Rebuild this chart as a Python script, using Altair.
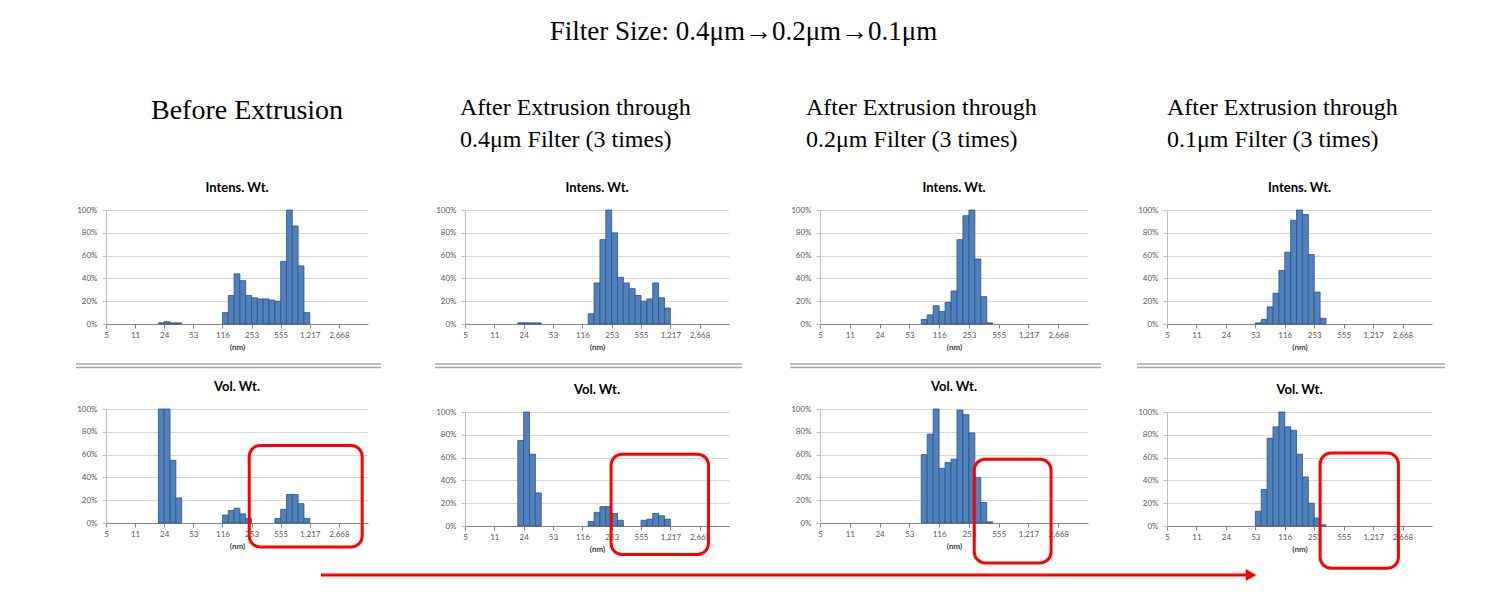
import altair as alt
import pandas as pd

# ---------------- text ----------------
MAIN_TITLE = "Filter Size: 0.4μm→0.2μm→0.1μm"
HEADERS = [
    ["Before Extrusion"],
    ["After Extrusion through", "0.4μm Filter (3 times)"],
    ["After Extrusion through", "0.2μm Filter (3 times)"],
    ["After Extrusion through", "0.1μm Filter (3 times)"],
]
INTENS_TITLE = "Intens. Wt."
VOL_TITLE = "Vol. Wt."
X_TITLE = "(nm)"

# size-bin axis: 45 log-spaced bins, labelled every 5th bin
N_BINS = 45
TICK_POSITIONS = [0, 5, 10, 15, 20, 25, 30, 35, 40]
SIZE_LABELS = ["5", "11", "24", "53", "116", "253", "555", "1,217", "2,668"]
PCT_TICKS = [0, 20, 40, 60, 80, 100]

# ---------------- data (bin index -> % of max) ----------------
before_int_bins = [9, 10, 11, 12, 20, 21, 22, 23, 24, 25, 26, 27, 28, 29, 30, 31, 32, 33, 34]
before_int_pct = [1, 2, 1, 1, 10, 25, 44, 38, 25, 23, 22, 22, 21, 20, 55, 100, 86, 51, 10]
before_vol_bins = [9, 10, 11, 12, 20, 21, 22, 23, 24, 29, 30, 31, 32, 33, 34]
before_vol_pct = [100, 100, 55, 22, 7, 11, 13, 8, 4, 4, 12, 25, 25, 17, 4]

f04_int_bins = [9, 10, 11, 12, 21, 22, 23, 24, 25, 26, 27, 28, 29, 30, 31, 32, 33, 34]
f04_int_pct = [1, 1, 1, 1, 9, 36, 74, 100, 80, 41, 36, 31, 25, 20, 22, 36, 23, 14]
f04_vol_bins = [9, 10, 11, 12, 21, 22, 23, 24, 25, 26, 30, 31, 32, 33, 34]
f04_vol_pct = [75, 100, 63, 29, 4, 12, 17, 17, 11, 5, 5, 6, 11, 9, 6]

f02_int_bins = [17, 18, 19, 20, 21, 22, 23, 24, 25, 26, 27, 28]
f02_int_pct = [4, 8, 16, 11, 19, 29, 74, 95, 100, 57, 24, 1]
f02_vol_bins = [17, 18, 19, 20, 21, 22, 23, 24, 25, 26, 27, 28]
f02_vol_pct = [60, 78, 100, 48, 53, 56, 99, 95, 79, 40, 18, 1]

f01_int_bins = [15, 16, 17, 18, 19, 20, 21, 22, 23, 24, 25, 26]
f01_int_pct = [1, 4, 15, 27, 47, 63, 91, 100, 96, 61, 28, 5]
f01_vol_bins = [15, 16, 17, 18, 19, 20, 21, 22, 23, 24, 25, 26]
f01_vol_pct = [13, 32, 77, 87, 100, 87, 84, 63, 43, 20, 7, 1]

# highlight boxes on the Vol. Wt. panels (bin units, percent units)
box_x0 = [24.6, 24.9, 25.9, 26.0]
box_x1 = [44.0, 41.5, 38.8, 39.3]
box_y0 = [68, 63, 56, 64]
box_y1 = [-21, -25, -35, -37]

# ---------------- styling ----------------
WIDTHS = [262, 264, 268, 265]
HEIGHT = 114
INNER_SPACING = [85, 88, 85, 88]
RIGHT_EXTENT = [32, 26, 13, 13]
COL_SPACING = 34
HEADER_SIZE = [28, 24, 24, 24]
HEADER_DX = [45, -5, -14, 0]
HEADER_OFFSET = [57, 30, 30, 30]
PANEL_TITLE_OFFSET = 11
SANS = "Lato"
SERIF = "Liberation Serif"
BAR_FILL = "#4F81BD"
BAR_STROKE = "#2E5283"
RED = "#FF0000"

label_expr = "".join(
    f"datum.value == {p} ? '{l}' : " for p, l in zip(TICK_POSITIONS, SIZE_LABELS)
) + "''"

x_axis = alt.Axis(
    values=TICK_POSITIONS, labelExpr=label_expr, title=X_TITLE, grid=False,
    tickSize=4, tickColor="#868686", domainColor="#868686", labelPadding=3,
    labelFlush=False, labelOverlap=False, labelAngle=0, labelFont=SANS,
    labelFontSize=8, labelColor="#595959", titleFont=SANS, titleFontSize=8,
    titleFontWeight="bold", titleColor="#404040", titlePadding=4,
)
y_axis = alt.Axis(
    values=PCT_TICKS, labelExpr="datum.value + '%'", title=None, grid=True,
    gridColor="#d9d9d9", tickSize=4, tickColor="#bfbfbf", domainColor="#bfbfbf",
    labelPadding=5, labelFont=SANS, labelFontSize=8, labelColor="#595959",
)
x_scale = alt.Scale(domain=[0, N_BINS], nice=False, zero=False)
y_scale = alt.Scale(domain=[0, 100], nice=False)
ONE = pd.DataFrame({"k": [0]})


def panel(bins, pct, width, title, box=None, separator=False, right_extent=0):
    df = pd.DataFrame({"start": bins, "end": [b + 1 for b in bins], "pct": pct})
    bars = alt.Chart(df).mark_bar(
        fill=BAR_FILL, stroke=BAR_STROKE, strokeWidth=0.8
    ).encode(
        x=alt.X("start:Q", scale=x_scale, axis=x_axis),
        x2="end:Q",
        y=alt.Y("pct:Q", scale=y_scale, axis=y_axis),
        y2=alt.datum(0),
    )
    layers = [bars]
    if box is not None:
        bdf = pd.DataFrame({"start": [box[0]], "end": [box[1]],
                            "pct": [box[2]], "pct2": [box[3]]})
        layers.append(
            alt.Chart(bdf).mark_rect(
                filled=False, stroke=RED, strokeWidth=3, cornerRadius=11
            ).encode(
                x=alt.X("start:Q", scale=x_scale, axis=x_axis), x2="end:Q",
                y=alt.Y("pct:Q", scale=y_scale, axis=y_axis), y2="pct2:Q",
            )
        )
    if separator:
        # double separator line between the Intens. and Vol. charts
        for yy in (HEIGHT + 40, HEIGHT + 43.5):
            layers.append(
                alt.Chart(ONE).mark_rule(color="#a6a6a6", strokeWidth=1.5).encode(
                    x=alt.value(-30), x2=alt.value(width + 13), y=alt.value(yy)
                )
            )
        # invisible spacer that sets how far this column reaches to the right
        layers.append(
            alt.Chart(ONE).mark_rule(color="#ffffff", strokeWidth=1, strokeOpacity=0).encode(
                x=alt.value(width), x2=alt.value(width + right_extent), y=alt.value(HEIGHT / 2)
            )
        )
    return alt.layer(*layers).properties(
        width=width, height=HEIGHT,
        title=alt.TitleParams(
            text=title, font=SANS, fontSize=13, fontWeight="bold", color="#000000",
            anchor="middle", frame="group", offset=PANEL_TITLE_OFFSET,
        ),
    )


data_sets = [
    (before_int_bins, before_int_pct, before_vol_bins, before_vol_pct),
    (f04_int_bins, f04_int_pct, f04_vol_bins, f04_vol_pct),
    (f02_int_bins, f02_int_pct, f02_vol_bins, f02_vol_pct),
    (f01_int_bins, f01_int_pct, f01_vol_bins, f01_vol_pct),
]

columns = []
for i, (ib, ip, vb, vp) in enumerate(data_sets):
    top = panel(ib, ip, WIDTHS[i], INTENS_TITLE,
                separator=True, right_extent=RIGHT_EXTENT[i])
    bottom = panel(vb, vp, WIDTHS[i], VOL_TITLE,
                   box=(box_x0[i], box_x1[i], box_y0[i], box_y1[i]))
    col = alt.vconcat(
        top, bottom, spacing=INNER_SPACING[i], bounds="flush",
        title=alt.TitleParams(
            text=HEADERS[i], font=SERIF, fontSize=HEADER_SIZE[i],
            fontWeight="normal", color="#000000", anchor="start", frame="group",
            dx=HEADER_DX[i], offset=HEADER_OFFSET[i], lineHeight=32,
        ),
    )
    columns.append(col)

panels_row = alt.hconcat(*columns, spacing=COL_SPACING)

# red progress arrow under the panels
arrow_line = alt.Chart(ONE).mark_rule(color=RED, strokeWidth=3).encode(
    x=alt.value(215), x2=alt.value(1142), y=alt.value(0)
)
arrow_head = alt.Chart(ONE).mark_point(
    shape="triangle-right", filled=True, size=150, color=RED, opacity=1
).encode(x=alt.value(1145), y=alt.value(0))
arrow_row = alt.layer(arrow_line, arrow_head).properties(width=1200, height=1)

chart = alt.vconcat(
    panels_row, arrow_row, spacing=-2,
    title=alt.TitleParams(
        text=MAIN_TITLE, font=SERIF, fontSize=27, fontWeight="normal",
        color="#000000", anchor="middle", offset=50, dx=-17,
    ),
).properties(
    padding={"left": 67, "top": 10, "right": 5, "bottom": 5},
    background="#ffffff",
).configure_view(stroke=None)

chart.save("out.html", embed_options={"renderer": "svg", "actions": False})
